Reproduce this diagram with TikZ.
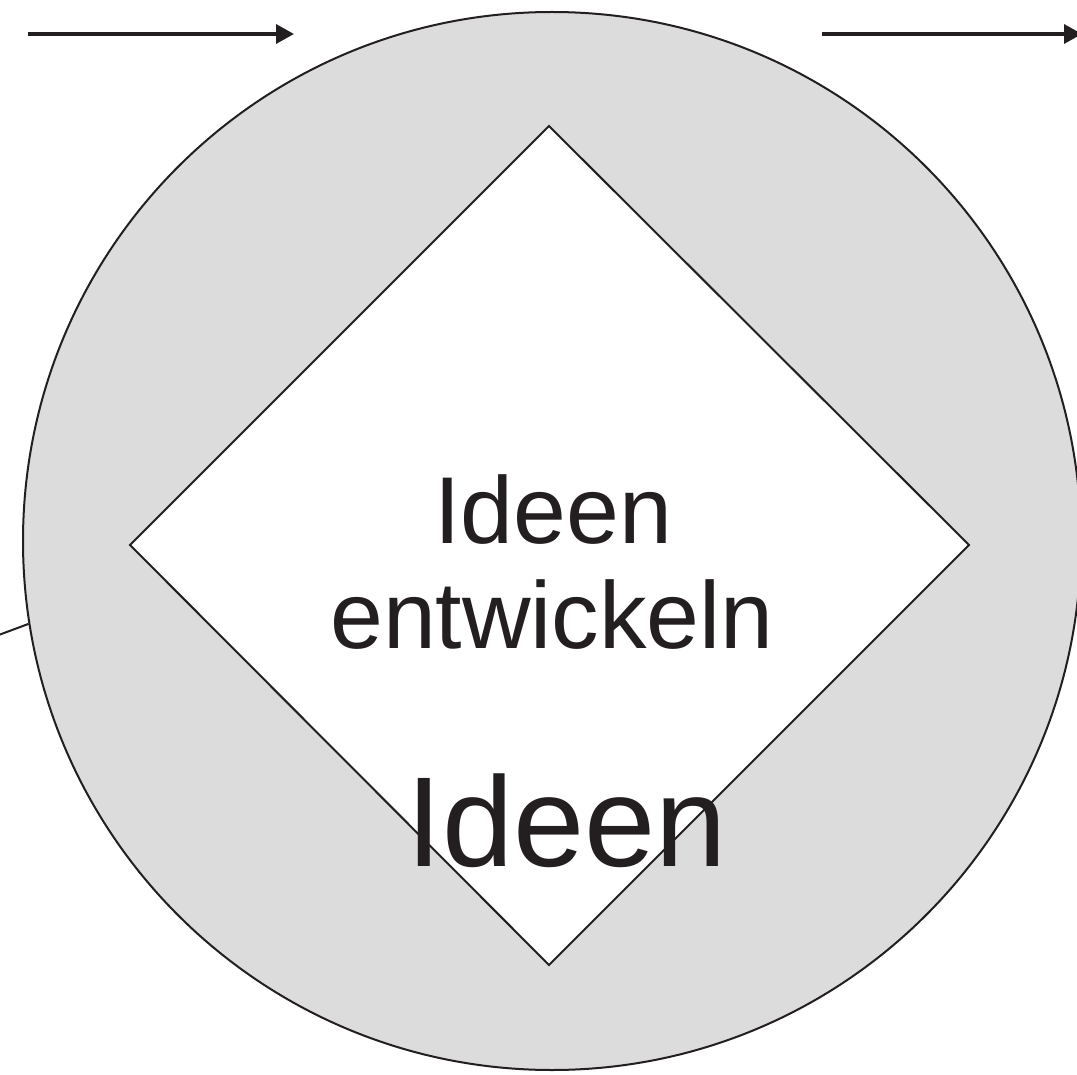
\documentclass[tikz,border=0pt]{standalone}
\usepackage{fontspec}
\setmainfont{Liberation Sans}
\usetikzlibrary{arrows.meta}

\definecolor{tinte}{HTML}{231F20}
\definecolor{grau}{HTML}{DCDCDC}

\begin{document}
\begin{tikzpicture}[x=1pt, y=-1pt, line join=miter,
    pfeil/.style={draw=tinte, line width=3.5pt, -{Triangle[length=18pt, width=19pt]}},
    linie/.style={draw=tinte, line width=2pt},
    schrift/.style={text=tinte, inner sep=0pt, anchor=base}]
      \useasboundingbox (0,0) rectangle (1077,1075);
      % Kreis
      \node[circle, fill=grau, linie, minimum size=1058pt, inner sep=0pt] (kreis) at (552,541) {};
      % Raute
      \coordinate (oben) at (549,126);
      \coordinate (rechts) at (969,545);
      \coordinate (unten) at (549,965);
      \coordinate (links) at (130,545);
      \draw[linie, fill=white] (oben) -- (rechts) -- (unten) -- (links) -- cycle;
      % Pfeile
      \coordinate (p1a) at (28,34);
      \coordinate (p1b) at (294,34);
      \coordinate (p2a) at (822,34);
      \coordinate (p2b) at (1082,34);
      \draw[pfeil] (p1a) -- (p1b);
      \draw[pfeil] (p2a) -- (p2b);
      % Zulauf links
      \coordinate (zulauf) at (-4,636);
      \draw[linie] (zulauf) -- (kreis.189);
      % Texte
      \node[schrift, font=\fontsize{95}{105}\selectfont] (ideen) at (553,543) {Ideen};
      \node[schrift, font=\fontsize{95}{105}\selectfont] (entw) at (552,648) {entwickeln};
      \node[schrift, font=\fontsize{128}{140}\selectfont] (gross) at (567,866) {Ideen};
\end{tikzpicture}
\end{document}
